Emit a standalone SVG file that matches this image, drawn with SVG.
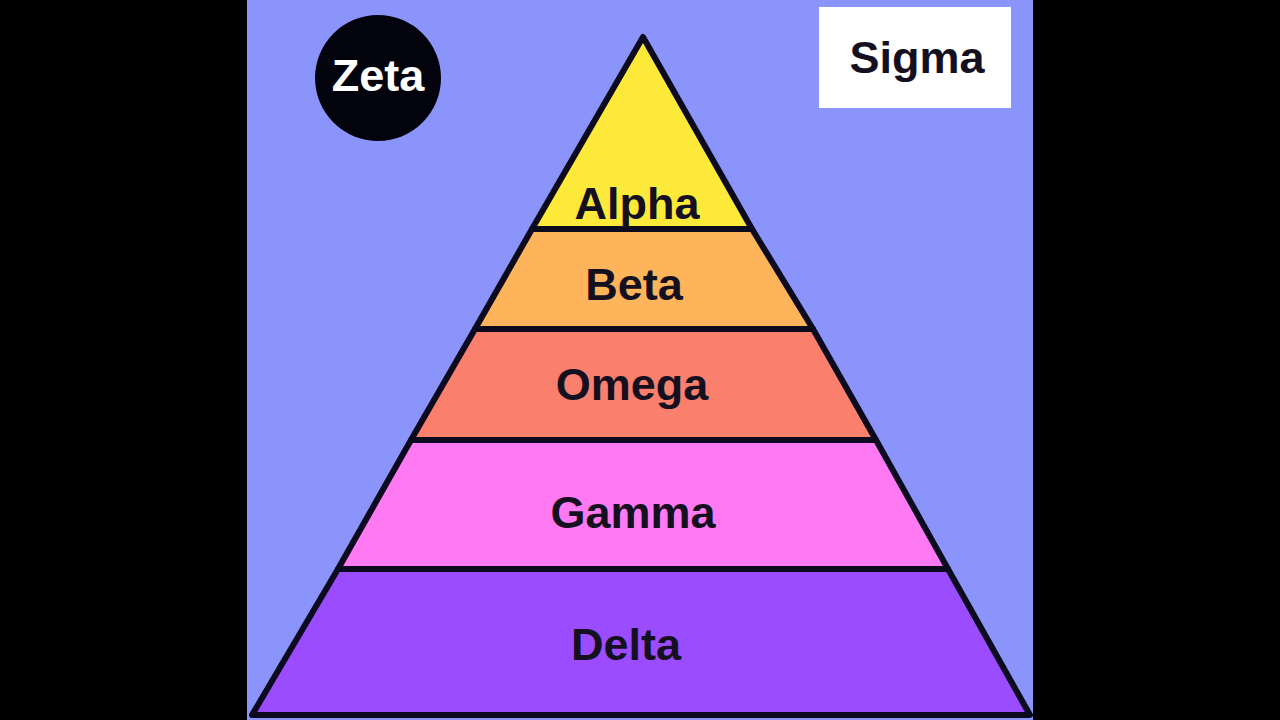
<svg xmlns="http://www.w3.org/2000/svg" width="1280" height="720" viewBox="0 0 1280 720">
<style>
.lbl{font-family:"Liberation Sans",Arial,sans-serif;font-weight:bold;font-size:45px;fill:#15101f;text-anchor:middle}
.band{stroke:#0c0a1e;stroke-width:6;stroke-linejoin:round}
</style>
<rect x="0" y="0" width="1280" height="720" fill="#000"/>
<rect x="247" y="0" width="786" height="720" fill="#8a94fa"/>
<g id="delta"><polygon class="band" fill="#9b4cfe" points="338,569 948,569 1030,715 252,715"/><text class="lbl" x="626" y="660">Delta</text></g>
<g id="gamma"><polygon class="band" fill="#ff79f2" points="411,440 876,440 948,569 338,569"/><text class="lbl" x="633" y="528">Gamma</text></g>
<g id="omega"><polygon class="band" fill="#fb7f6d" points="475,329 813,329 876,440 411,440"/><text class="lbl" x="632" y="400">Omega</text></g>
<g id="beta"><polygon class="band" fill="#fdb45a" points="532,229 752,229 813,329 475,329"/><text class="lbl" x="634" y="300">Beta</text></g>
<g id="alpha"><polygon class="band" fill="#fde93a" points="643,37 752,229 532,229"/><text class="lbl" x="637" y="219">Alpha</text></g>
<g id="zeta"><circle cx="378" cy="78" r="63" fill="#03030e"/><text class="lbl" x="378" y="91" style="fill:#fff">Zeta</text></g>
<g id="sigma"><rect x="819" y="7" width="192" height="101" fill="#fff"/><text class="lbl" x="917" y="73">Sigma</text></g>
<g id="connectors"></g>
</svg>
